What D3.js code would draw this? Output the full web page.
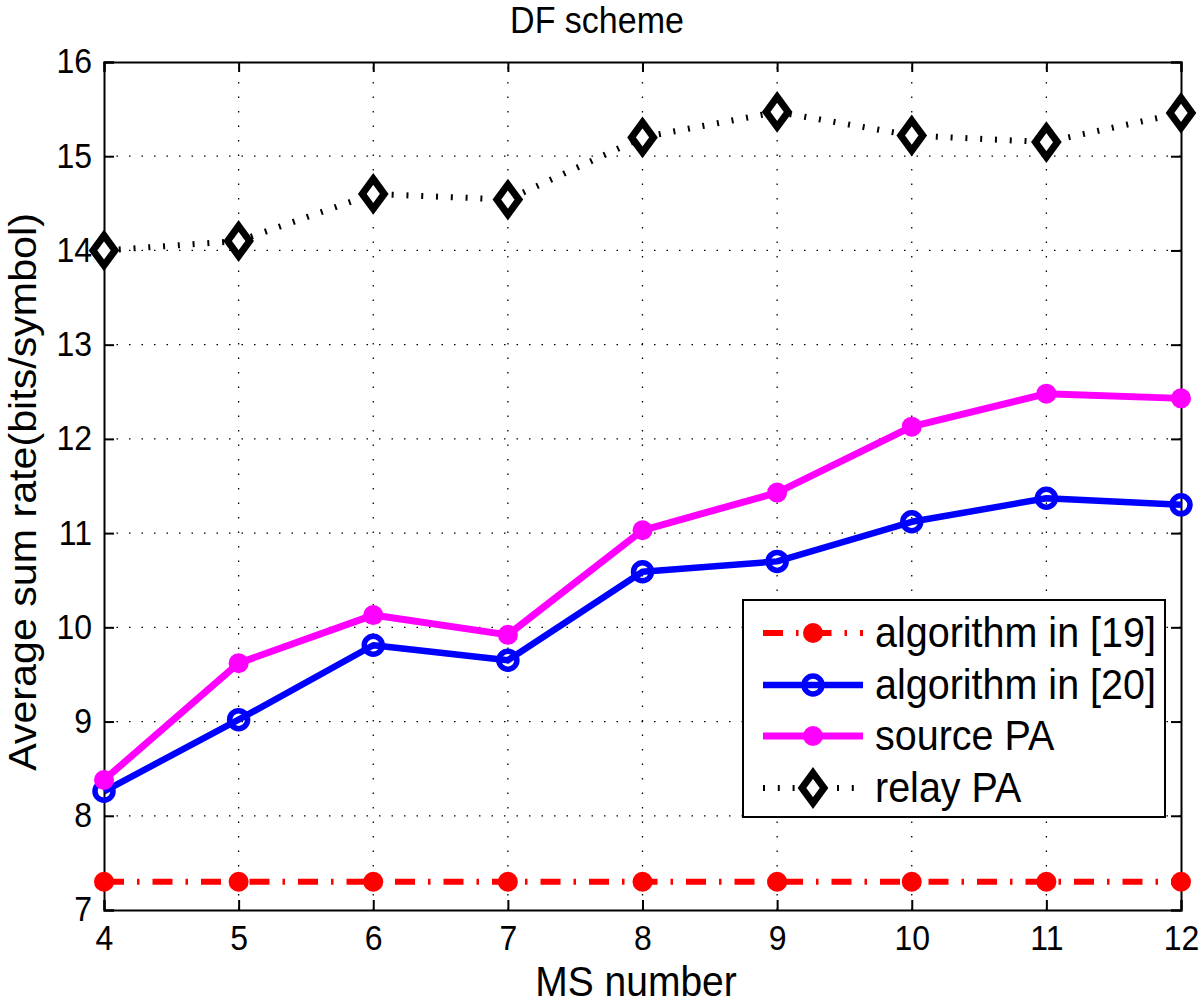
<!DOCTYPE html>
<html>
<head>
<meta charset="utf-8">
<script src="https://cdn.jsdelivr.net/npm/d3@7"></script>
<style>
html,body{margin:0;padding:0;background:#fff;}
text{font-family:"Liberation Sans",Arial,Helvetica,sans-serif;fill:#000;}
</style>
</head>
<body>
<svg id="chart" width="1200" height="1004"></svg>
<script>
const msNumbers = [4, 5, 6, 7, 8, 9, 10, 11, 12];
const alg19 = [7.3, 7.3, 7.3, 7.3, 7.3, 7.3, 7.3, 7.3, 7.3];
const alg20 = [8.26, 9.02, 9.81, 9.65, 10.59, 10.70, 11.12, 11.37, 11.30];
const sourcePA = [8.38, 9.62, 10.13, 9.92, 11.03, 11.43, 12.13, 12.48, 12.43];
const relayPA = [14.0, 14.10, 14.60, 14.54, 15.20, 15.47, 15.22, 15.15, 15.46];
const xTicks = [4, 5, 6, 7, 8, 9, 10, 11, 12];
const yTicks = [7, 8, 9, 10, 11, 12, 13, 14, 15, 16];
const legendLabels = ["algorithm in [19]", "algorithm in [20]", "source PA", "relay PA"];

const svg = d3.select("#chart");
const L = 104, R = 1181, T = 62, B = 910;
const SY = 1.07; // vertical stretch of the reference text
const x = d3.scaleLinear().domain([4, 12]).range([L, R]);
const y = d3.scaleLinear().domain([7, 16]).range([B, T]);

// grid
const grid = svg.append("g");
grid.selectAll("line.gx").data(xTicks.slice(1, -1)).enter().append("line")
  .attr("x1", d => x(d)).attr("x2", d => x(d)).attr("y1", B).attr("y2", T)
  .attr("stroke", "#000").attr("stroke-width", 1.3).attr("stroke-dasharray", "1.5 13");
grid.selectAll("line.gy").data(yTicks.slice(1, -1)).enter().append("line")
  .attr("x1", L).attr("x2", R).attr("y1", d => y(d)).attr("y2", d => y(d))
  .attr("stroke", "#000").attr("stroke-width", 1.3).attr("stroke-dasharray", "1.5 11");

// axes
const axB = d3.axisBottom(x).tickValues(xTicks).tickSize(-10).tickPadding(16).tickFormat(d3.format("d"));
const axL = d3.axisLeft(y).tickValues(yTicks).tickSize(-10).tickPadding(12).tickFormat(d3.format("d"));
const axT = d3.axisTop(x).tickValues(xTicks).tickSize(-10).tickFormat("");
const axR = d3.axisRight(y).tickValues(yTicks).tickSize(-10).tickFormat("");
function styleAxis(g){
  g.select(".domain").attr("stroke", "#000").attr("stroke-width", 2);
  g.selectAll(".tick line").attr("stroke", "#000").attr("stroke-width", 2);
  g.selectAll(".tick text").attr("font-size", 32).attr("font-family", "Liberation Sans, Arial, sans-serif").attr("fill", "#000");
}
const gB = svg.append("g").attr("transform", `translate(0,${B})`).call(axB).call(styleAxis);
const gL = svg.append("g").attr("transform", `translate(${L},0)`).call(axL).call(styleAxis);
svg.append("g").attr("transform", `translate(0,${T})`).call(axT).call(styleAxis);
svg.append("g").attr("transform", `translate(${R},0)`).call(axR).call(styleAxis);
// stretch tick labels vertically around their own position
gB.selectAll(".tick text").attr("transform", function(){
  const yy = +d3.select(this).attr("y"); return `translate(0,${yy}) scale(1,${SY}) translate(0,${-yy})`;
});
gL.selectAll(".tick text").attr("transform", `scale(1,${SY})`).attr("dy", "0.32em");

// series
const line = d3.line().x(d => x(d[0])).y(d => y(d[1]));
const zip = v => msNumbers.map((m, i) => [m, v[i]]);

const series = [
  {data: alg19, color: "#ff0000", width: 6, dash: "20 13 2.5 13", marker: "dot"},
  {data: alg20, color: "#0000ff", width: 6.5, dash: null, marker: "ring"},
  {data: sourcePA, color: "#ff00ff", width: 7, dash: null, marker: "dot"},
  {data: relayPA, color: "#000000", width: 6, dash: "2 12.8", marker: "diamond"}
];

function drawMarker(g, marker, color, cx, cy){
  if (marker === "dot") {
    g.append("circle").attr("cx", cx).attr("cy", cy).attr("r", 10).attr("fill", color);
  } else if (marker === "ring") {
    g.append("circle").attr("cx", cx).attr("cy", cy).attr("r", 9).attr("fill", "none")
      .attr("stroke", color).attr("stroke-width", 5.5);
  } else {
    const hw = 11, hh = 15;
    g.append("path").attr("d", `M${cx},${cy-hh}L${cx+hw},${cy}L${cx},${cy+hh}L${cx-hw},${cy}Z`)
      .attr("fill", "#fff").attr("stroke", color).attr("stroke-width", 7).attr("stroke-linejoin", "miter");
  }
}

series.forEach(s => {
  const g = svg.append("g");
  g.append("path").attr("d", line(zip(s.data))).attr("fill", "none")
    .attr("stroke", s.color).attr("stroke-width", s.width)
    .attr("stroke-dasharray", s.dash).attr("stroke-linejoin", "round");
  zip(s.data).forEach(d => drawMarker(g, s.marker, s.color, x(d[0]), y(d[1])));
});

// helper for vertically stretched text anchored at baseline (bx, by)
function stretchedText(parent, bx, by, size, anchor, str){
  return parent.append("text")
    .attr("transform", `translate(${bx},${by}) scale(1,${SY})`)
    .attr("text-anchor", anchor).attr("font-size", size).text(str);
}

// legend
const lg = svg.append("g");
lg.append("rect").attr("x", 743).attr("y", 600).attr("width", 422).attr("height", 217)
  .attr("fill", "#fff").attr("stroke", "#000").attr("stroke-width", 2);
const rowY = [633, 685, 736, 788];
series.forEach((s, i) => {
  lg.append("line").attr("x1", 763).attr("x2", 863).attr("y1", rowY[i]).attr("y2", rowY[i])
    .attr("stroke", s.color).attr("stroke-width", s.width)
    .attr("stroke-dasharray", s.dash);
  drawMarker(lg, s.marker, s.color, 813, rowY[i]);
  stretchedText(lg, 875, rowY[i] + 14, 39.5, "start", legendLabels[i]);
});

// labels
stretchedText(svg, 597, 33, 34, "middle", "DF scheme");
stretchedText(svg, 636, 996, 39, "middle", "MS number");
svg.append("text").attr("transform", `translate(36,492) scale(1,${SY}) rotate(-90)`)
  .attr("text-anchor", "middle").attr("font-size", 38.5).text("Average sum rate(bits/symbol)");
</script>
</body>
</html>
